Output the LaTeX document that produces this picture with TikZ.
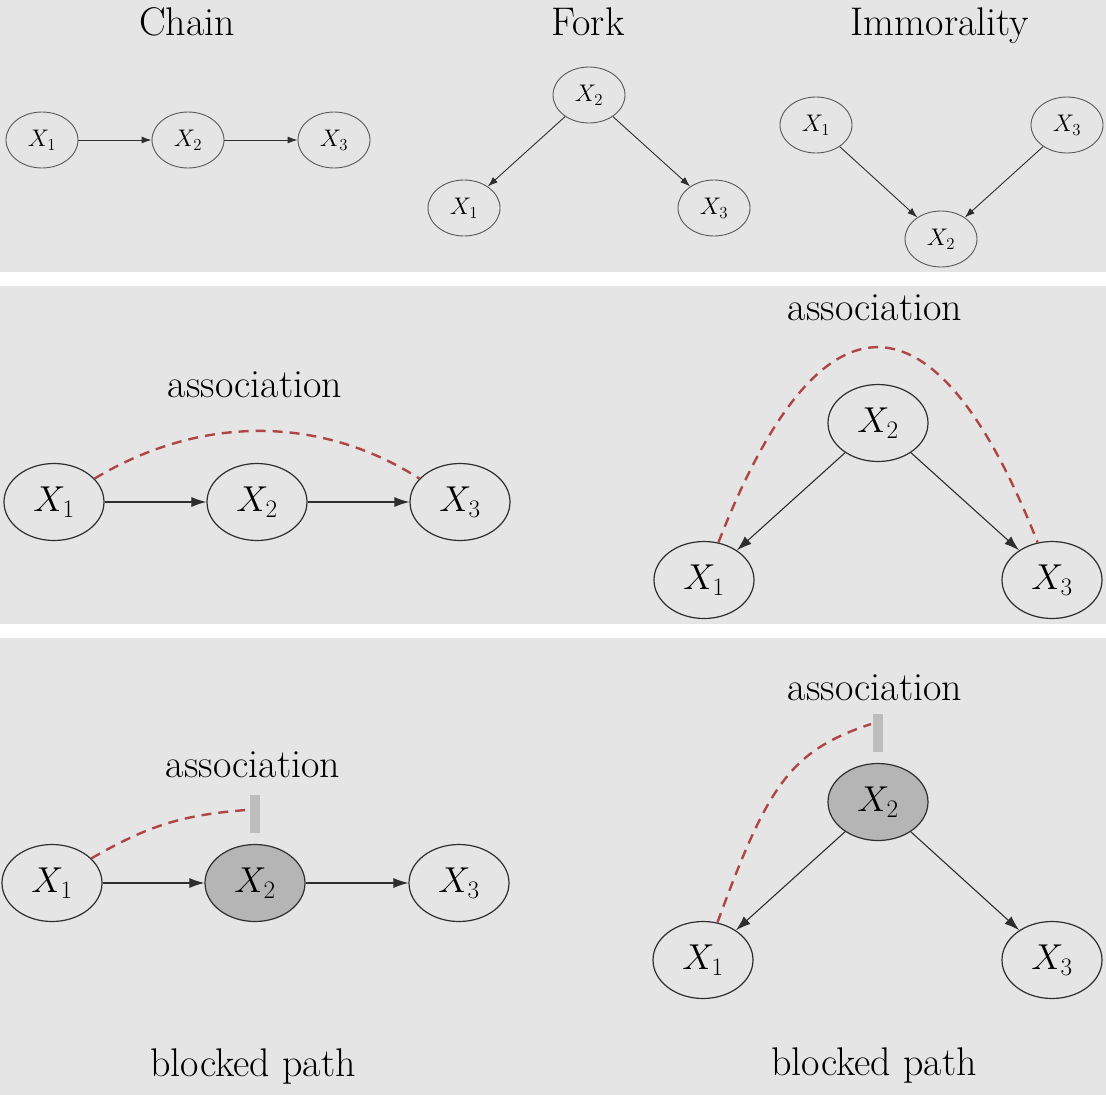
\RequirePackage{fix-cm}
\documentclass[tikz,border=0pt]{standalone}
\usetikzlibrary{shapes.geometric,arrows.meta}
\definecolor{panelgray}{HTML}{E5E5E5}
\definecolor{shadegray}{HTML}{B5B5B5}
\definecolor{barcol}{HTML}{BDBDBD}
\definecolor{assoc}{HTML}{B04545}
\definecolor{edgecol}{HTML}{2E2E2E}
\tikzset{
  smallnode/.style={ellipse, draw=edgecol!80, line width=0.9pt, minimum width=72pt, minimum height=56pt, inner sep=0pt, font=\fontsize{24}{28}\selectfont},
  bignode/.style={ellipse, draw=edgecol, line width=1.2pt, minimum width=100pt, minimum height=77pt, inner sep=0pt, font=\fontsize{36}{40}\selectfont},
  shaded/.style={fill=shadegray},
  smallarr/.style={-{Latex[length=10pt,width=7pt]}, line width=0.9pt, draw=edgecol},
  bigarr/.style={-{Latex[length=15pt,width=10pt]}, line width=1.1pt, draw=edgecol},
  titletext/.style={anchor=base, inner sep=0pt, font=\fontsize{40}{44}\selectfont},
  assocline/.style={draw=assoc, line width=2.4pt, dash pattern=on 10pt off 7pt},
  blockbar/.style={rectangle, fill=barcol, draw=none, minimum width=10pt, minimum height=38pt, inner sep=0pt}
}
\begin{document}
\begin{tikzpicture}[x=1pt,y=-1pt]
\useasboundingbox (0,0) rectangle (1106,1095);
\fill[white] (0,0) rectangle (1106,1095);
\fill[panelgray] (0,0) rectangle (1106,272);
\fill[panelgray] (0,286) rectangle (1106,624);
\fill[panelgray] (0,638) rectangle (1106,1095);

% ---- Row 1 ----
\node[titletext] (tChain) at (187,35) {Chain};
\node[titletext] (tFork) at (588,35) {Fork};
\node[titletext] (tImm) at (940,35) {Immorality};

\node[smallnode] (c1) at (42,140) {$X_1$};
\node[smallnode] (c2) at (188,140) {$X_2$};
\node[smallnode] (c3) at (334,140) {$X_3$};
\draw[smallarr] (c1) -- (c2);
\draw[smallarr] (c2) -- (c3);

\node[smallnode] (f2) at (589,95) {$X_2$};
\node[smallnode] (f1) at (464,208) {$X_1$};
\node[smallnode] (f3) at (714,208) {$X_3$};
\draw[smallarr] (f2) -- (f1);
\draw[smallarr] (f2) -- (f3);

\node[smallnode] (m1) at (816,125) {$X_1$};
\node[smallnode] (m3) at (1067,125) {$X_3$};
\node[smallnode] (m2) at (941,239) {$X_2$};
\draw[smallarr] (m1) -- (m2);
\draw[smallarr] (m3) -- (m2);

% ---- Row 2 ----
\node[titletext] (assocA) at (255,397) {association};
\node[bignode] (a1) at (54,502) {$X_1$};
\node[bignode] (a2) at (257,502) {$X_2$};
\node[bignode] (a3) at (460,502) {$X_3$};
\draw[bigarr] (a1) -- (a2);
\draw[bigarr] (a2) -- (a3);
\draw[assocline] (a1.30) .. controls (200,415) and (320,415) .. (a3.150);

\node[titletext] (assocB) at (875,320) {association};
\node[bignode] (b2) at (878,423) {$X_2$};
\node[bignode] (b1) at (704,580) {$X_1$};
\node[bignode] (b3) at (1052,580) {$X_3$};
\draw[bigarr] (b2) -- (b1);
\draw[bigarr] (b2) -- (b3);
\draw[assocline] (b1.69) .. controls (820,282) and (935,282) .. (b3.111);

% ---- Row 3 ----
\node[titletext] (assocC) at (253,777) {association};
\node[blockbar] (barA) at (255,814) {};
\coordinate (endA) at (246,810);
\node[bignode] (d1) at (52,883) {$X_1$};
\node[bignode, shaded] (d2) at (255,883) {$X_2$};
\node[bignode] (d3) at (459,883) {$X_3$};
\draw[bigarr] (d1) -- (d2);
\draw[bigarr] (d2) -- (d3);
\draw[assocline] (d1.32) .. controls (149,825) and (183,815) .. (endA);
\node[titletext] (blockC) at (253,1076) {blocked path};

\node[titletext] (assocD) at (875,700) {association};
\node[blockbar] (barB) at (877.5,732.5) {};
\coordinate (endB) at (871,724);
\node[bignode, shaded] (e2) at (878,802) {$X_2$};
\node[bignode] (e1) at (703,960) {$X_1$};
\node[bignode] (e3) at (1052,960) {$X_3$};
\draw[bigarr] (e2) -- (e1);
\draw[bigarr] (e2) -- (e3);
\draw[assocline] (e1.69) .. controls (768,785) and (790,751) .. (endB);
\node[titletext] (blockD) at (874,1075) {blocked path};
\end{tikzpicture}
\end{document}
